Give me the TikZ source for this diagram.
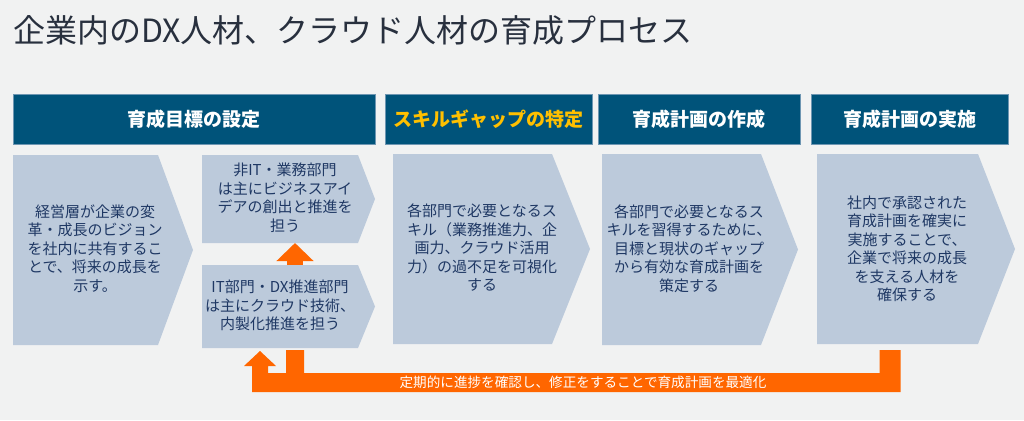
\documentclass[tikz,border=0pt]{standalone}
\usepackage{fontspec}
\setmainfont{Noto Sans CJK JP}
\usetikzlibrary{arrows.meta,calc}
\definecolor{bgray}{RGB}{241,242,242}
\definecolor{barblue}{RGB}{0,83,122}
\definecolor{baredge}{RGB}{110,150,178}
\definecolor{chevfill}{RGB}{188,202,219}
\definecolor{chevink}{RGB}{31,56,100}
\definecolor{titleink}{RGB}{40,48,62}
\definecolor{looporange}{RGB}{255,102,0}
\definecolor{stageyel}{RGB}{255,192,0}
\tikzstyle{stage}=[fill=barblue,draw=baredge,line width=0.7pt,minimum height=50pt,inner sep=0pt,text=white,font=\bfseries\fontsize{19}{22}\selectfont]
\tikzstyle{chevbody}=[inner sep=0pt,outer sep=0pt]
\tikzstyle{chevtxt}=[align=center,text=chevink,inner sep=0pt,font=\fontsize{15}{18.5}\selectfont]
\begin{document}
\begin{tikzpicture}[x=1pt,y=-1pt]
\fill[bgray] (0,0) rectangle (1024,420);
\node[anchor=west,inner sep=0pt,text=titleink,font=\fontsize{32}{38}\selectfont] (title) at (13,30) {企業内のDX人材、クラウド人材の育成プロセス};
% stage headers
\node[stage,minimum width=362pt] (s1) at (194,119) {育成目標の設定};
\node[stage,minimum width=207pt,text=stageyel] (s2) at (488.5,119) {スキルギャップの特定};
\node[stage,minimum width=202pt] (s3) at (699,119) {育成計画の作成};
\node[stage,minimum width=197pt] (s4) at (909.5,119) {育成計画の実施};
% chevron bodies, point added below
\node[chevbody,minimum width=145pt,minimum height=190pt] (goal) at (85.5,250) {};
\node[chevbody,minimum width=156pt,minimum height=88pt] (biz) at (280,199) {};
\node[chevbody,minimum width=156pt,minimum height=83pt] (itdx) at (280,306.5) {};
\node[chevbody,minimum width=159pt,minimum height=190pt] (gap) at (472.5,249) {};
\node[chevbody,minimum width=159pt,minimum height=191pt] (plan) at (681.5,249.5) {};
\node[chevbody,minimum width=161pt,minimum height=190pt] (run) at (897.5,249) {};
\foreach \n/\d in {goal/35,biz/17,itdx/17,gap/38,plan/37,run/37}
  \fill[chevfill] (\n.north west) -- (\n.north east) -- ([xshift=\d pt]\n.east) -- (\n.south east) -- (\n.south west) -- cycle;
\node[chevtxt] at (goal) [xshift=9.5pt,yshift=1.5pt] {経営層が企業の変\\革・成長のビジョン\\を社内に共有するこ\\とで、将来の成長を\\示す。};
\node[chevtxt] at (biz) [xshift=5pt,yshift=1.5pt] {非IT・業務部門\\は主にビジネスアイ\\デアの創出と推進を\\担う};
\node[chevtxt] at (itdx) [yshift=1pt] {IT部門・DX推進部門\\は主にクラウド技術、\\内製化推進を担う};
\node[chevtxt] at (gap) [xshift=9.5pt,yshift=1pt] {各部門で必要となるス\\キル（業務推進力、企\\画力、クラウド活用\\力）の過不足を可視化\\する};
\node[chevtxt] at (plan) [xshift=7.5pt,yshift=1pt] {各部門で必要となるス\\キルを習得するために、\\目標と現状のギャップ\\から有効な育成計画を\\策定する};
\node[chevtxt] at (run) [xshift=9.5pt] {社内で承認された\\育成計画を確実に\\実施することで、\\企業で将来の成長\\を支える人材を\\確保する};
% feedback loop
\draw[-{Triangle[width=36pt,length=18pt]},line width=16pt,looporange] ([xshift=15pt]itdx.north) -- ([xshift=15pt]biz.south);
\fill[looporange] ($(itdx.south)+(-20,3)$) coordinate (tipL) -- ++(16,15) -- ++(-8,0) -- ++(0,7) -- ++(18,0) -- ++(0,-23) -- ++(18,0) -- ++(0,23)
  -- ($(run.south)+(-18,29)$) -- ++(0,-23) -- ++(21,0) -- ++(0,42) -- ($(tipL)+(-8,41)$) -- ++(0,-26) -- ++(-8,0) -- cycle;
\node[text=white,inner sep=0pt,font=\fontsize{13.6}{16}\selectfont] (loopnote) at (583,382.5) {定期的に進捗を確認し、修正をすることで育成計画を最適化};
\end{tikzpicture}
\end{document}
